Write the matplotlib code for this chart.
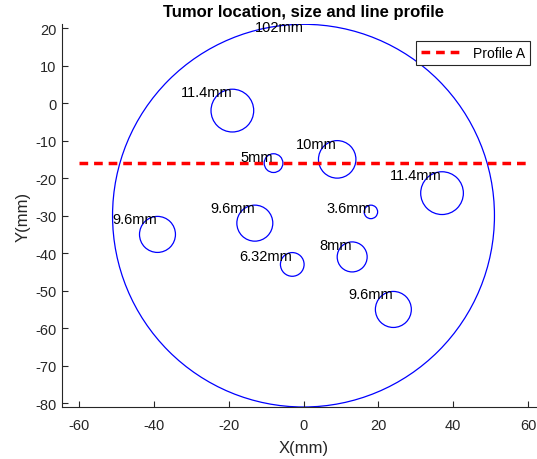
import numpy as np
import matplotlib.pyplot as plt
from matplotlib.patches import Circle

plt.rcParams['font.family'] = ['Liberation Sans', 'DejaVu Sans']
plt.rcParams['axes.unicode_minus'] = False

# phantom outline and tumor inclusions (mm)
cx = [0, -19, -8, 9, 37, 18, -39, -13, -3, 13, 24]
cy = [-30, -2, -16, -15, -24, -29, -35, -32, -43, -41, -55]
diam = [102, 11.4, 5, 10, 11.4, 3.6, 9.6, 9.6, 6.32, 8, 9.6]
labels = ['102mm', '11.4mm', '5mm', '10mm', '11.4mm', '3.6mm',
          '9.6mm', '9.6mm', '6.32mm', '8mm', '9.6mm']

# line profile
prof_x = [-60, 60]
prof_y = [-16, -16]

fig = plt.figure(figsize=(5.37, 4.6), dpi=100)
ax = fig.add_axes([62/537, 52/460, 483/537, 382.7/460])

for x, y, d, lab in zip(cx, cy, diam, labels):
    r = d / 2
    ax.add_patch(Circle((x, y), r, fill=False, ec='#0000ff', lw=0.9))
    ax.text(x, y + r - 0.8, lab, ha='right', va='center', fontsize=10.5,
            color='k')

ax.plot(prof_x, prof_y, color='r', lw=2.5, ls=(0, (2.5, 1.7)), label='Profile A')

ax.set_xlim(-64.5, 64.5)
ax.set_ylim(-81, 21)
ax.set_xticks(np.arange(-60, 61, 20))
ax.set_yticks(np.arange(-80, 21, 10))

ax.spines['top'].set_visible(False)
ax.spines['right'].set_visible(False)
for s in ('left', 'bottom'):
    ax.spines[s].set_color('0.15')
    ax.spines[s].set_linewidth(0.8)
ax.tick_params(direction='in', length=4, width=0.8, colors='0.15',
               labelsize=10.5)
ax.tick_params(axis='x', pad=8)
ax.tick_params(axis='y', pad=4)

ax.set_xlabel('X(mm)', fontsize=12, color='0.15', labelpad=6)
ax.set_ylabel('Y(mm)', fontsize=12, color='0.15', labelpad=3)
ax.set_title('Tumor location, size and line profile', fontsize=12,
             fontweight='bold', pad=6)

leg = ax.legend(loc='upper right', bbox_to_anchor=(0.9695, 0.9556),
                fontsize=10, fancybox=False, framealpha=1, edgecolor='0.15',
                handlelength=3.0, borderpad=0.35, borderaxespad=0)
leg.get_frame().set_linewidth(0.8)

fig.savefig('out.png', dpi=100)
